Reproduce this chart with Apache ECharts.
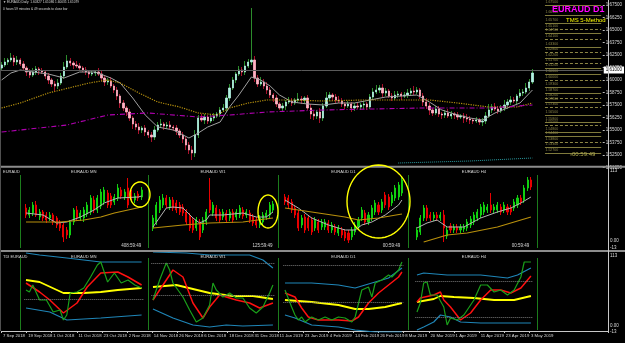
<!DOCTYPE html>
<html>
<head>
<meta charset="utf-8">
<script src="https://cdn.jsdelivr.net/npm/echarts@6.0.0/dist/echarts.min.js"></script>
<style>
  html, body { margin: 0; padding: 0; background: #000; }
  #chart { width: 625px; height: 343px; }
</style>
</head>
<body>
<div id="chart"></div>
<script>
// EURAUD daily + MTF candles + TDI, MT4 screenshot look

// time axis labels (one every 8 daily bars)
const dateLabels = ['7 Sep 2018', '19 Sep 2018', '1 Oct 2018', '11 Oct 2018', '23 Oct 2018', '2 Nov 2018',
  '14 Nov 2018', '26 Nov 2018', '6 Dec 2018', '18 Dec 2018', '31 Dec 2018', '11 Jan 2019', '23 Jan 2019',
  '4 Feb 2019', '14 Feb 2019', '26 Feb 2019', '8 Mar 2019', '20 Mar 2019', '1 Apr 2019', '11 Apr 2019',
  '23 Apr 2019', '3 May 2019']
const barsPerLabel = 8
const slotCount = 193

// daily closes
const firstOpen = 1.612
const closes = [
  1.615, 1.618, 1.620, 1.622, 1.618, 1.620, 1.616, 1.612, 1.608, 1.605,
  1.608, 1.611, 1.609, 1.608, 1.604, 1.600, 1.596, 1.594, 1.597, 1.604,
  1.613, 1.619, 1.617, 1.615, 1.614, 1.612, 1.610, 1.608, 1.606, 1.607,
  1.608, 1.606, 1.602, 1.598, 1.599, 1.594, 1.590, 1.584, 1.577, 1.572,
  1.568, 1.562, 1.556, 1.553, 1.550, 1.552, 1.548, 1.545, 1.543, 1.550,
  1.555, 1.556, 1.554, 1.555, 1.553, 1.552, 1.549, 1.545, 1.541, 1.535,
  1.530, 1.527, 1.545, 1.562, 1.560, 1.563, 1.559, 1.562, 1.564, 1.566,
  1.570, 1.572, 1.582, 1.592, 1.600, 1.606, 1.610, 1.608, 1.614, 1.618,
  1.620, 1.602, 1.596, 1.598, 1.594, 1.590, 1.585, 1.582, 1.576, 1.572,
  1.574, 1.578, 1.579, 1.577, 1.580, 1.581, 1.580, 1.582, 1.572, 1.566,
  1.564, 1.568, 1.562, 1.574, 1.582, 1.585, 1.583, 1.580, 1.579, 1.576,
  1.574, 1.576, 1.572, 1.574, 1.573, 1.575, 1.576, 1.573, 1.583, 1.588,
  1.590, 1.592, 1.587, 1.589, 1.584, 1.582, 1.585, 1.586, 1.584, 1.585,
  1.587, 1.589, 1.588, 1.590, 1.584, 1.578, 1.574, 1.570, 1.567, 1.571,
  1.566, 1.565, 1.567, 1.564, 1.566, 1.565, 1.563, 1.564, 1.562, 1.561,
  1.560, 1.559, 1.560, 1.558, 1.559, 1.564, 1.570, 1.573, 1.571, 1.569,
  1.572, 1.575, 1.578, 1.580, 1.579, 1.584, 1.587, 1.588, 1.592, 1.598,
  1.607
]
// wick lengths above / below the body, in 0.001
const wickUp = [
  3, 4, 2, 5, 3, 4, 2, 3, 2, 3,
  4, 3, 2, 3, 2, 3, 2, 3, 4, 3,
  5, 6, 3, 2, 4, 3, 2, 3, 2, 3,
  2, 4, 3, 2, 3, 4, 2, 3, 2, 3,
  2, 3, 2, 3, 4, 2, 3, 2, 3, 4,
  3, 5, 2, 3, 4, 2, 3, 2, 3, 2,
  3, 4, 5, 3, 4, 3, 2, 4, 3, 2,
  3, 4, 3, 4, 3, 2, 4, 3, 5, 3,
  52, 4, 3, 5, 3, 4, 3, 2, 3, 2,
  3, 2, 4, 3, 2, 6, 3, 2, 3, 4,
  3, 2, 4, 3, 6, 3, 2, 3, 4, 3,
  2, 3, 2, 3, 4, 2, 3, 2, 3, 4,
  5, 3, 4, 3, 2, 3, 4, 3, 2, 3,
  4, 3, 5, 3, 2, 3, 4, 3, 2, 3,
  3, 2, 3, 4, 3, 2, 3, 2, 3, 4,
  3, 2, 3, 2, 3, 4, 6, 3, 4, 3,
  3, 5, 3, 4, 3, 2, 4, 3, 5, 3,
  4
]
const wickDown = [
  3, 2, 3, 2, 4, 3, 2, 3, 4, 3,
  2, 3, 4, 2, 3, 4, 3, 5, 3, 2,
  3, 2, 3, 4, 2, 3, 2, 3, 4, 2,
  3, 2, 3, 4, 3, 2, 3, 4, 5, 3,
  4, 3, 5, 3, 4, 3, 4, 3, 5, 3,
  2, 3, 4, 3, 2, 3, 4, 3, 4, 5,
  4, 7, 4, 3, 2, 4, 3, 2, 3, 2,
  3, 2, 4, 3, 2, 3, 2, 4, 3, 2,
  3, 4, 3, 2, 3, 4, 3, 4, 3, 2,
  3, 4, 2, 3, 2, 3, 4, 3, 2, 5,
  4, 3, 5, 3, 2, 3, 4, 3, 2, 3,
  3, 2, 4, 3, 2, 3, 4, 3, 2, 3,
  2, 3, 4, 3, 2, 3, 2, 3, 4, 2,
  3, 2, 3, 2, 3, 4, 3, 5, 3, 2,
  3, 4, 3, 2, 3, 4, 3, 2, 5, 3,
  4, 3, 2, 3, 4, 3, 2, 3, 2, 3,
  2, 3, 4, 3, 2, 3, 2, 3, 2, 3,
  2
]

// moving averages on the daily chart, [bar, price]
const maFast = [[0, 1.600], [3, 1.607], [6, 1.610], [10, 1.608], [15, 1.606], [20, 1.602], [25, 1.608], [30, 1.608],
  [35, 1.602], [38, 1.597], [42, 1.582], [46, 1.565], [50, 1.553], [55, 1.550], [60, 1.542], [63, 1.547], [66, 1.553],
  [70, 1.558], [73, 1.573], [76, 1.585], [80, 1.603], [83, 1.600], [86, 1.594], [89, 1.585], [93, 1.578], [98, 1.576],
  [103, 1.575], [108, 1.577], [113, 1.577], [118, 1.580], [123, 1.583], [128, 1.584], [133, 1.585], [137, 1.578],
  [141, 1.570], [145, 1.566], [150, 1.562], [154, 1.560], [158, 1.567], [162, 1.572], [166, 1.577], [170, 1.590]]
const maMid = [[0, 1.572], [6, 1.577], [15, 1.587], [28, 1.597], [34, 1.600], [38, 1.597], [44, 1.587], [50, 1.578],
  [57, 1.573], [63, 1.567], [69, 1.565], [73, 1.572], [79, 1.577], [85, 1.580], [92, 1.580], [103, 1.579], [116, 1.580],
  [127, 1.580], [137, 1.580], [146, 1.577], [156, 1.573], [165, 1.573], [170, 1.577]]
const maSlow = [[0, 1.548], [21, 1.555], [34, 1.565], [47, 1.567], [63, 1.563], [73, 1.565], [85, 1.568], [103, 1.570],
  [135, 1.572], [156, 1.572], [170, 1.575]]
const maLong = [[127, 1.517], [150, 1.519], [170, 1.522]]

// TMS price levels drawn right of the last bar
const levelSolid = [1.675, 1.665, 1.657, 1.647, 1.633, 1.622, 1.612, 1.606, 1.593, 1.587, 1.578, 1.565, 1.558, 1.548, 1.544, 1.533, 1.527]
const levelDashed = [1.651, 1.641, 1.628, 1.617, 1.600, 1.582, 1.573, 1.555, 1.538]

// multi timeframe candles [open, close, low, high]
const mnCandles = [
  [1.592, 1.585, 1.582, 1.596], [1.585, 1.590, 1.582, 1.593], [1.587, 1.595, 1.584, 1.598], [1.595, 1.585, 1.583, 1.599],
  [1.583, 1.588, 1.580, 1.591], [1.588, 1.582, 1.579, 1.590], [1.585, 1.580, 1.577, 1.588], [1.582, 1.585, 1.579, 1.588],
  [1.585, 1.578, 1.575, 1.587], [1.582, 1.575, 1.572, 1.584], [1.578, 1.572, 1.569, 1.580], [1.575, 1.563, 1.558, 1.577],
  [1.570, 1.565, 1.561, 1.573], [1.565, 1.578, 1.562, 1.580], [1.578, 1.590, 1.575, 1.592], [1.590, 1.582, 1.579, 1.594],
  [1.582, 1.587, 1.579, 1.590], [1.582, 1.590, 1.578, 1.593], [1.586, 1.595, 1.583, 1.598], [1.588, 1.602, 1.585, 1.605],
  [1.600, 1.590, 1.587, 1.604], [1.590, 1.602, 1.587, 1.605], [1.594, 1.608, 1.591, 1.611], [1.598, 1.610, 1.595, 1.613],
  [1.607, 1.595, 1.592, 1.610], [1.604, 1.595, 1.592, 1.607], [1.598, 1.603, 1.595, 1.606], [1.602, 1.612, 1.599, 1.616],
  [1.610, 1.604, 1.601, 1.613], [1.603, 1.608, 1.600, 1.611], [1.612, 1.595, 1.592, 1.622], [1.607, 1.602, 1.599, 1.610],
  [1.600, 1.604, 1.597, 1.607], [1.606, 1.602, 1.599, 1.609], [1.603, 1.610, 1.600, 1.613]
]
const w1Candles = [
  [1.572, 1.582, 1.569, 1.585], [1.578, 1.595, 1.575, 1.598], [1.590, 1.600, 1.587, 1.604], [1.595, 1.602, 1.592, 1.606],
  [1.602, 1.595, 1.592, 1.605], [1.593, 1.600, 1.590, 1.603], [1.600, 1.592, 1.589, 1.603], [1.597, 1.590, 1.587, 1.600],
  [1.595, 1.588, 1.585, 1.598], [1.593, 1.587, 1.584, 1.596], [1.588, 1.578, 1.575, 1.591], [1.584, 1.572, 1.569, 1.587],
  [1.580, 1.570, 1.567, 1.583], [1.572, 1.580, 1.569, 1.583], [1.578, 1.563, 1.560, 1.581], [1.570, 1.580, 1.567, 1.583],
  [1.578, 1.588, 1.575, 1.591], [1.600, 1.590, 1.587, 1.622], [1.587, 1.595, 1.584, 1.598], [1.592, 1.582, 1.579, 1.595],
  [1.588, 1.580, 1.577, 1.591], [1.583, 1.588, 1.580, 1.591], [1.587, 1.580, 1.577, 1.590], [1.582, 1.588, 1.579, 1.591],
  [1.588, 1.580, 1.577, 1.591], [1.583, 1.588, 1.580, 1.591], [1.585, 1.592, 1.582, 1.595], [1.590, 1.584, 1.581, 1.593],
  [1.585, 1.588, 1.582, 1.591], [1.587, 1.580, 1.577, 1.590], [1.583, 1.577, 1.574, 1.586], [1.580, 1.575, 1.572, 1.583],
  [1.575, 1.582, 1.572, 1.585], [1.578, 1.585, 1.575, 1.588], [1.583, 1.587, 1.580, 1.590], [1.585, 1.595, 1.582, 1.598],
  [1.590, 1.596, 1.587, 1.599]
]
const d1Candles = [
  [1.603, 1.598, 1.595, 1.606], [1.602, 1.595, 1.592, 1.605], [1.598, 1.590, 1.587, 1.601], [1.592, 1.585, 1.582, 1.595],
  [1.587, 1.572, 1.569, 1.590], [1.575, 1.582, 1.572, 1.585], [1.583, 1.570, 1.567, 1.586], [1.582, 1.572, 1.569, 1.585],
  [1.580, 1.568, 1.565, 1.583], [1.572, 1.580, 1.569, 1.583], [1.578, 1.570, 1.567, 1.581], [1.573, 1.578, 1.570, 1.581],
  [1.573, 1.578, 1.570, 1.581], [1.577, 1.570, 1.567, 1.580], [1.570, 1.575, 1.567, 1.578], [1.573, 1.568, 1.565, 1.576],
  [1.567, 1.572, 1.564, 1.575], [1.570, 1.565, 1.562, 1.573], [1.568, 1.562, 1.559, 1.571], [1.567, 1.560, 1.557, 1.570],
  [1.563, 1.570, 1.560, 1.573], [1.568, 1.575, 1.565, 1.578], [1.573, 1.580, 1.570, 1.583], [1.582, 1.590, 1.579, 1.593],
  [1.587, 1.578, 1.575, 1.590], [1.578, 1.585, 1.575, 1.588], [1.582, 1.592, 1.579, 1.595], [1.588, 1.597, 1.585, 1.600],
  [1.595, 1.588, 1.585, 1.598], [1.590, 1.598, 1.587, 1.601], [1.605, 1.595, 1.592, 1.608], [1.603, 1.593, 1.590, 1.606],
  [1.597, 1.605, 1.594, 1.608], [1.602, 1.612, 1.599, 1.615], [1.603, 1.615, 1.600, 1.618], [1.607, 1.620, 1.604, 1.623]
]
const h4Candles = [
  [1.563, 1.570, 1.560, 1.573], [1.568, 1.582, 1.565, 1.585], [1.582, 1.592, 1.579, 1.595], [1.592, 1.582, 1.579, 1.595],
  [1.585, 1.582, 1.579, 1.588], [1.582, 1.585, 1.579, 1.588], [1.585, 1.582, 1.579, 1.588], [1.582, 1.585, 1.579, 1.588],
  [1.585, 1.572, 1.558, 1.590], [1.564, 1.570, 1.561, 1.573], [1.574, 1.570, 1.567, 1.577], [1.570, 1.573, 1.567, 1.576],
  [1.573, 1.570, 1.567, 1.576], [1.570, 1.573, 1.567, 1.576], [1.571, 1.573, 1.568, 1.576], [1.572, 1.578, 1.569, 1.581],
  [1.575, 1.581, 1.572, 1.584], [1.578, 1.585, 1.575, 1.588], [1.582, 1.588, 1.579, 1.591], [1.585, 1.593, 1.582, 1.596],
  [1.588, 1.595, 1.585, 1.598], [1.590, 1.593, 1.587, 1.596], [1.595, 1.590, 1.587, 1.607], [1.590, 1.593, 1.587, 1.596],
  [1.590, 1.595, 1.587, 1.598], [1.593, 1.588, 1.585, 1.596], [1.590, 1.595, 1.587, 1.598], [1.593, 1.588, 1.585, 1.596],
  [1.592, 1.588, 1.585, 1.595], [1.592, 1.598, 1.589, 1.601], [1.595, 1.602, 1.592, 1.605], [1.602, 1.598, 1.595, 1.605],
  [1.600, 1.612, 1.597, 1.615], [1.612, 1.620, 1.609, 1.623], [1.620, 1.613, 1.610, 1.623]
]
const mnFast = [[0, 1.587], [5, 1.585], [9, 1.577], [12, 1.578], [16, 1.583], [20, 1.590], [23, 1.597], [27, 1.602], [33, 1.603], [34, 1.604]]
const mnSlow = [[0, 1.578], [10, 1.578], [17, 1.580], [22, 1.583], [26, 1.587], [34, 1.593]]
const w1Fast = [[0, 1.573], [4, 1.592], [6, 1.593], [9, 1.592], [12, 1.582], [14, 1.577], [16, 1.580], [17, 1.585], [21, 1.585],
  [27, 1.587], [31, 1.583], [34, 1.583], [36, 1.588]]
const w1Slow = [[0, 1.572], [9, 1.575], [17, 1.577], [27, 1.578], [36, 1.582]]
const d1Fast = [[0, 1.600], [4, 1.592], [8, 1.582], [13, 1.575], [18, 1.570], [21, 1.570], [23, 1.575], [26, 1.578], [30, 1.585],
  [34, 1.595], [35, 1.600]]
const d1Slow = [[0, 1.592], [8, 1.588], [18, 1.583], [22, 1.580], [28, 1.582], [35, 1.586]]
const h4Fast = [[0, 1.572], [3, 1.577], [6, 1.580], [9, 1.573], [14, 1.573], [19, 1.582], [24, 1.588], [28, 1.592], [31, 1.597], [34, 1.603]]
const h4Slow = [[2, 1.558], [9, 1.565], [15, 1.567], [24, 1.573], [34, 1.583]]

// TDI lines [bar, value]
const mnUpper = [[0, 96], [4, 94], [12, 91], [22, 87], [34, 87]]
const mnLower = [[0, 41], [7, 37], [12, 29], [17, 30], [22, 31], [34, 34]]
const mnBase = [[0, 69], [4, 67], [11, 56], [17, 56], [22, 57], [27, 59], [34, 61]]
const mnSignal = [[0, 66], [4, 57], [7, 49], [11, 36], [15, 46], [18, 62], [22, 76], [27, 77], [30, 72], [33, 66], [34, 64]]
const mnRsi = [[0, 59], [1, 57], [2, 64], [4, 49], [6, 49], [8, 37], [10, 39], [11, 29], [12, 34], [13, 56], [15, 57], [17, 61],
  [19, 72], [21, 84], [22, 87], [24, 67], [26, 76], [28, 66], [30, 69], [32, 64], [34, 61]]
const w1Upper = [[0, 97], [10, 96], [17, 94], [29, 94], [33, 89], [36, 81]]
const w1Lower = [[0, 40], [6, 31], [12, 24], [17, 22], [22, 24], [27, 23], [36, 24]]
const w1Base = [[0, 62], [7, 64], [12, 60], [17, 56], [24, 53], [30, 53], [36, 50]]
const w1Signal = [[0, 49], [3, 64], [6, 79], [9, 72], [12, 46], [15, 31], [17, 42], [20, 54], [25, 49], [29, 46], [32, 41], [36, 46]]
const w1Rsi = [[0, 49], [2, 69], [4, 86], [5, 79], [6, 66], [9, 52], [11, 39], [13, 27], [15, 31], [17, 44], [18, 66], [19, 59],
  [21, 52], [23, 56], [25, 51], [27, 51], [29, 41], [31, 36], [33, 42], [35, 56], [36, 64]]
const d1Upper = [[0, 66], [8, 66], [16, 64], [21, 61], [26, 66], [31, 71], [35, 81]]
const d1Lower = [[0, 34], [3, 31], [8, 24], [16, 22], [21, 19], [27, 17], [35, 17]]
const d1Base = [[0, 49], [8, 47], [16, 44], [21, 40], [25, 40], [30, 42], [35, 46]]
const d1Signal = [[0, 56], [3, 52], [5, 41], [7, 32], [10, 29], [16, 29], [20, 28], [22, 32], [25, 46], [28, 56], [31, 64], [34, 72], [35, 77]]
const d1Rsi = [[0, 59], [2, 42], [3, 34], [4, 29], [5, 32], [6, 27], [8, 32], [10, 29], [12, 32], [14, 29], [16, 32], [18, 31],
  [20, 27], [21, 32], [23, 59], [25, 62], [26, 52], [27, 66], [29, 69], [31, 74], [32, 72], [34, 79], [35, 87]]
const h4Upper = [[0, 74], [2, 76], [9, 74], [19, 74], [27, 71], [30, 74], [34, 81]]
const h4Lower = [[0, 19], [2, 22], [5, 27], [7, 34], [10, 32], [13, 27], [19, 26], [29, 26], [34, 26]]
const h4Base = [[0, 47], [5, 50], [7, 53], [11, 52], [17, 51], [23, 49], [29, 49], [34, 53]]
const h4Signal = [[0, 47], [1, 51], [5, 54], [7, 57], [8, 49], [10, 42], [13, 29], [16, 36], [19, 49], [22, 59], [25, 59], [28, 56],
  [31, 61], [34, 73]]
const h4Rsi = [[0, 37], [1, 46], [2, 66], [3, 67], [4, 54], [6, 54], [8, 42], [9, 24], [10, 31], [12, 29], [14, 34], [17, 49],
  [19, 64], [21, 64], [23, 57], [25, 59], [27, 54], [29, 59], [31, 72], [32, 87], [34, 87]]
const mnLevels = [50]
const w1Levels = [86, 54]
const d1Levels = [84, 47]
const h4Levels = [68, 32]

const FONT = 'Liberation Sans'
const dateSlots = Array.from({ length: slotCount }, (_, i) =>
  (i % barsPerLabel === 0 && dateLabels[i / barsPerLabel]) ? dateLabels[i / barsPerLabel] : '')

const mainOhlc = closes.map((c, i) => {
  const o = i ? closes[i - 1] : firstOpen
  return [o, c, Math.min(o, c) - wickDown[i] / 1000, Math.max(o, c) + wickUp[i] / 1000]
})
const mainBodies = mainOhlc.map(d => [d[0], d[1], Math.min(d[0], d[1]), Math.max(d[0], d[1])])
const lastClose = closes[closes.length - 1]

// panel layout
const mini = [
  { name: 'EURAUD MN', candles: mnCandles, fast: mnFast, slow: mnSlow, left: 24.3, width: 119, timer: '408:59:49',
    tdi: [mnUpper, mnLower, mnBase, mnSignal, mnRsi], levels: mnLevels },
  { name: 'EURAUD W1', candles: w1Candles, fast: w1Fast, slow: w1Slow, left: 151.3, width: 123.3, timer: '125:59:49',
    tdi: [w1Upper, w1Lower, w1Base, w1Signal, w1Rsi], levels: w1Levels },
  { name: 'EURAUD D1', candles: d1Candles, fast: d1Fast, slow: d1Slow, left: 283.3, width: 120.3, timer: '00:59:49',
    tdi: [d1Upper, d1Lower, d1Base, d1Signal, d1Rsi], levels: d1Levels },
  { name: 'EURAUD H4', candles: h4Candles, fast: h4Fast, slow: h4Slow, left: 415.3, width: 117.3, timer: '00:59:49',
    tdi: [h4Upper, h4Lower, h4Base, h4Signal, h4Rsi], levels: h4Levels }
]

const grid = [{ left: 0, top: 0, width: 608, height: 167.5 }]
const xAxis = [{ type: 'category', gridIndex: 0, data: dateSlots, show: false }]
const yAxis = [{
  type: 'value', gridIndex: 0, position: 'right', min: 1.5125, max: 1.68, interval: 0.0125,
  splitLine: { show: false },
  axisLine: { show: false },
  axisTick: { show: true, length: 2, lineStyle: { color: '#bbb' } },
  axisLabel: { color: '#d8d8d8', fontSize: 4.5, fontFamily: FONT, margin: 3, showMaxLabel: false, formatter: v => v.toFixed(5) }
}]
const series = []

// main daily candles: wick layer then pale bodies
series.push({
  type: 'candlestick', xAxisIndex: 0, yAxisIndex: 0, data: mainOhlc, barWidth: 0.5, silent: true,
  itemStyle: { color: '#2c8c2c', color0: '#a8102a', borderColor: '#2c8c2c', borderColor0: '#a8102a', borderWidth: 1 }
})
series.push({
  type: 'candlestick', xAxisIndex: 0, yAxisIndex: 0, data: mainBodies, barWidth: 1.8, silent: true,
  itemStyle: { color: '#b0f0e0', color0: '#ffb0c2', borderColor: '#b0f0e0', borderColor0: '#ffb0c2', borderWidth: 0.8 },
  markLine: {
    silent: true, symbol: 'none', animation: false,
    data: [{ yAxis: lastClose }],
    lineStyle: { color: '#5a5a5a', width: 1, type: 'solid' },
    label: {
      show: true, position: 'end', distance: 1, formatter: p => p.value.toFixed(5),
      color: '#000', backgroundColor: '#fff', fontSize: 4.5, fontFamily: FONT, padding: [1, 2]
    }
  }
})
const lineBase = { type: 'line', xAxisIndex: 0, yAxisIndex: 0, symbol: 'none', silent: true }
series.push(Object.assign({}, lineBase, { data: maFast, lineStyle: { color: '#a0a0a0', width: 1 } }))
series.push(Object.assign({}, lineBase, { data: maMid, lineStyle: { color: '#b8920e', width: 1.2, type: 'dotted' } }))
series.push(Object.assign({}, lineBase, {
  data: maSlow, lineStyle: { color: '#b000b0', width: 1.1, type: [5, 2, 1, 2] },
  markLine: {
    silent: true, symbol: 'none', animation: false,
    data: levelDashed.map(v => [{ coord: [174, v], name: v.toFixed(5) }, { coord: [192, v] }]),
    lineStyle: { color: '#8a8444', width: 1, type: [3, 2] },
    label: { show: true, position: 'insideStartTop', formatter: '{b}', color: '#8c8648', fontSize: 3.5, fontFamily: FONT, distance: 0.5 }
  }
}))
series.push(Object.assign({}, lineBase, {
  data: maLong, lineStyle: { color: '#2a9aa0', width: 1, type: 'dotted' },
  markLine: {
    silent: true, symbol: 'none', animation: false,
    data: levelSolid.map(v => [{ coord: [174, v], name: v.toFixed(5) }, { coord: [192, v] }]),
    lineStyle: { color: '#7f7a3c', width: 1, type: 'solid' },
    label: { show: true, position: 'insideStartTop', formatter: '{b}', color: '#8c8648', fontSize: 3.5, fontFamily: FONT, distance: 0.5 }
  }
}))

// multi timeframe candle panels and TDI panels
mini.forEach((m, k) => {
  const gi = 1 + k
  grid.push({ left: m.left, top: 167, width: m.width, height: 83 })
  xAxis.push({ type: 'category', gridIndex: gi, data: m.candles.map((_, i) => i), show: false })
  yAxis.push({ type: 'value', gridIndex: gi, min: 1.55, max: 1.633, show: false })
  series.push({
    type: 'candlestick', xAxisIndex: gi, yAxisIndex: gi, data: m.candles, barWidth: 1.6, silent: true,
    itemStyle: { color: '#10d010', color0: '#e80000', borderColor: '#10d010', borderColor0: '#e80000', borderWidth: 1 }
  })
  series.push({ type: 'line', xAxisIndex: gi, yAxisIndex: gi, data: m.fast, symbol: 'none', silent: true,
    lineStyle: { color: '#b4b4b4', width: 1 } })
  series.push({ type: 'line', xAxisIndex: gi, yAxisIndex: gi, data: m.slow, symbol: 'none', silent: true,
    lineStyle: { color: '#b8900c', width: 1.2 } })
})
mini.forEach((m, k) => {
  const gi = 5 + k
  const n = m.candles.length
  grid.push({ left: m.left, top: 252, width: m.width, height: 80 })
  xAxis.push({ type: 'value', gridIndex: gi, min: -0.5, max: n - 0.5, show: false })
  yAxis.push({ type: 'value', gridIndex: gi, min: 17, max: 97, show: false })
  const [upper, lower, base, signal, rsi] = m.tdi
  const tl = (data, color, width, extra) => Object.assign({
    type: 'line', xAxisIndex: gi, yAxisIndex: gi, data, symbol: 'none', silent: true, lineStyle: { color, width }
  }, extra || {})
  series.push(tl(upper, '#1f86b8', 1.2))
  series.push(tl(lower, '#1f86b8', 1.2))
  series.push(tl(base, '#ffff00', 1.8, {
    markLine: {
      silent: true, symbol: 'none', animation: false, label: { show: false },
      data: m.levels.map(v => ({ yAxis: v })),
      lineStyle: { color: '#7a7a7a', width: 1, type: 'dotted' }
    }
  }))
  series.push(tl(signal, '#ff1010', 1.5))
  series.push(tl(rsi, '#1aa01a', 1.2))
})

// shared date axis along the bottom
grid.push({ left: 0, top: 252, width: 608, height: 79 })
xAxis.push({
  type: 'category', gridIndex: 9, data: dateSlots,
  axisLine: { show: true, lineStyle: { color: '#c8c8c8', width: 1 } },
  axisTick: { show: true, length: 2, interval: i => dateSlots[i] !== '', lineStyle: { color: '#c8c8c8' } },
  axisLabel: { interval: 0, align: 'left', color: '#d8d8d8', fontSize: 4.3, fontFamily: FONT, margin: 3, hideOverlap: false }
})
yAxis.push({ type: 'value', gridIndex: 9, show: false })

// overlay texts, frame and annotations
const txt = (x, y, text, st) => ({
  type: 'text', x, y, silent: true, z: 100,
  style: Object.assign({ text, fill: '#d8d8d8', font: '4.5px "' + FONT + '"' }, st || {})
})
const ln = (x1, y1, x2, y2, stroke, lineWidth) => ({
  type: 'line', silent: true, z: 90, shape: { x1, y1, x2, y2 }, style: { stroke, lineWidth }
})
function ringPoints (cx, cy, rx, ry) {
  const pts = []
  for (let k = 0; k < 60; k++) {
    const a = k / 60 * Math.PI * 2
    pts.push([cx + rx * Math.cos(a), cy + ry * Math.sin(a)])
  }
  return pts
}
const ring = (cx, cy, rx, ry) => ({
  type: 'polygon', silent: true, z: 110, shape: { points: ringPoints(cx, cy, rx, ry) },
  style: { fill: null, stroke: '#ffff00', lineWidth: 1.4 }
})

const graphic = [
  ln(0, 166.8, 625, 166.8, '#8c8c8c', 2),
  ln(0, 251, 625, 251, '#8c8c8c', 2),
  ln(608.5, 0, 608.5, 331, '#c8c8c8', 1),
  ln(0.5, 0, 0.5, 331, '#505050', 1),
  txt(3, 1, '\u25BC EURAUD,Daily  1.60327 1.61086 1.60035 1.61079', { font: '3.2px "' + FONT + '"' }),
  txt(3, 8, '0 hours 59 minutes & 49 seconds to close bar', { font: '3.2px "' + FONT + '"' }),
  txt(552, 5, 'EURAUD D1', { fill: '#ff00ff', font: 'bold 9px "' + FONT + '"' }),
  txt(566, 17.5, 'TMS 5-Method', { fill: '#ffff00', font: '6px "' + FONT + '"' }),
  txt(570, 151.5, '\u203A00:59:49', { fill: '#b0ac50', font: '6px "' + FONT + '"' }),
  txt(3, 169.5, 'EURAUD', { font: '4px "' + FONT + '"' }),
  txt(3, 254.5, 'TDI EURAUD', { font: '4px "' + FONT + '"' }),
  txt(610, 168, '113'), txt(610, 238.5, '0.00'), txt(610, 245.5, '-13'),
  txt(610, 253, '113'), txt(610, 323.5, '0.00'), txt(610, 329.5, '-13')
]
const panelEdges = [20, 148, 278, 408, 537]
panelEdges.forEach(x => {
  graphic.push(ln(x + 0.5, 175, x + 0.5, 248, '#1c7c1c', 1))
  graphic.push(ln(x + 0.5, 258, x + 0.5, 330, '#1c7c1c', 1))
})
mini.forEach(m => {
  const cx = m.left + m.width / 2
  graphic.push(txt(cx, 170, m.name, { textAlign: 'center', font: '4.2px "' + FONT + '"' }))
  graphic.push(txt(cx, 254.5, m.name, { textAlign: 'center', font: '4.2px "' + FONT + '"' }))
  graphic.push(txt(m.left + m.width - 12, 243.5, m.timer, { textAlign: 'center', font: '4.5px "' + FONT + '"' }))
})
graphic.push(ring(140, 194.5, 10, 12.5))
graphic.push(ring(268, 211.5, 10, 16.5))
graphic.push(ring(378.5, 201.5, 31.5, 36.5))

const myChart = echarts.init(document.getElementById('chart'), null, { renderer: 'canvas' })
myChart.setOption({
  backgroundColor: '#000',
  animation: false,
  grid,
  xAxis,
  yAxis,
  series,
  graphic
})
</script>
</body>
</html>
